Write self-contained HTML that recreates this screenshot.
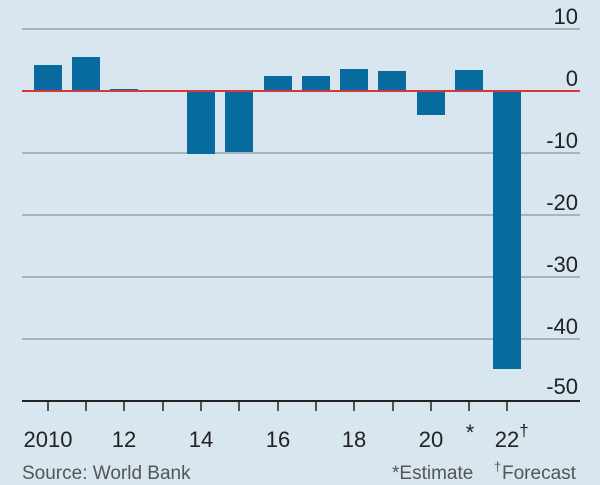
<!DOCTYPE html>
<html><head><style>
html,body{margin:0;padding:0;background:#d7e6ef;}
svg{display:block;font-family:"Liberation Sans",sans-serif;}
</style></head><body>
<svg width="600" height="485" viewBox="0 0 600 485">
<rect width="600" height="485" fill="#d7e6ef"/>
<g stroke="#a9b3ba" stroke-width="2">
<line x1="22" x2="580" y1="29" y2="29"/>
<line x1="22" x2="580" y1="153" y2="153"/>
<line x1="22" x2="580" y1="215" y2="215"/>
<line x1="22" x2="580" y1="277" y2="277"/>
<line x1="22" x2="580" y1="339" y2="339"/>
</g>
<g fill="#076ba0">
<rect x="34" y="65" width="28" height="26"/>
<rect x="72" y="57" width="28" height="34"/>
<rect x="110" y="89" width="28" height="2"/>
<rect x="187" y="91" width="28" height="63"/>
<rect x="225" y="91" width="28" height="61"/>
<rect x="264" y="76" width="28" height="15"/>
<rect x="302" y="76" width="28" height="15"/>
<rect x="340" y="69" width="28" height="22"/>
<rect x="378" y="71" width="28" height="20"/>
<rect x="417" y="91" width="28" height="24"/>
<rect x="455" y="70" width="28" height="21"/>
<rect x="493" y="91" width="28" height="278"/>
</g>
<line x1="22" x2="580" y1="91" y2="91" stroke="#d9373b" stroke-width="2"/>
<line x1="22" x2="580" y1="401" y2="401" stroke="#222" stroke-width="2"/>
<g stroke="#222" stroke-width="1.5">
<line x1="48" x2="48" y1="401" y2="411"/><line x1="86" x2="86" y1="401" y2="411"/>
<line x1="124" x2="124" y1="401" y2="411"/><line x1="163" x2="163" y1="401" y2="411"/>
<line x1="201" x2="201" y1="401" y2="411"/><line x1="239" x2="239" y1="401" y2="411"/>
<line x1="278" x2="278" y1="401" y2="411"/><line x1="316" x2="316" y1="401" y2="411"/>
<line x1="354" x2="354" y1="401" y2="411"/><line x1="393" x2="393" y1="401" y2="411"/>
<line x1="431" x2="431" y1="401" y2="411"/><line x1="469" x2="469" y1="401" y2="411"/>
<line x1="507" x2="507" y1="401" y2="411"/>
</g>
<g font-size="22" fill="#222" text-anchor="end">
<text x="578" y="24">10</text>
<text x="578" y="86">0</text>
<text x="578" y="148">-10</text>
<text x="578" y="210">-20</text>
<text x="578" y="272">-30</text>
<text x="578" y="334">-40</text>
<text x="578" y="394">-50</text>
</g>
<g font-size="22" fill="#222" text-anchor="middle">
<text x="48" y="447">2010</text>
<text x="124" y="447">12</text>
<text x="201" y="447">14</text>
<text x="278" y="447">16</text>
<text x="354" y="447">18</text>
<text x="431" y="447">20</text>
<text x="470" y="440">*</text>
<text x="507" y="447">22</text>
<text x="524" y="436" font-size="17">†</text>
</g>
<g font-size="19" fill="#555">
<text x="22" y="479">Source: World Bank</text>
<text x="392" y="479">*Estimate</text>
<text x="494" y="471" font-size="13">†</text>
<text x="502" y="479">Forecast</text>
</g>
</svg>
</body></html>
